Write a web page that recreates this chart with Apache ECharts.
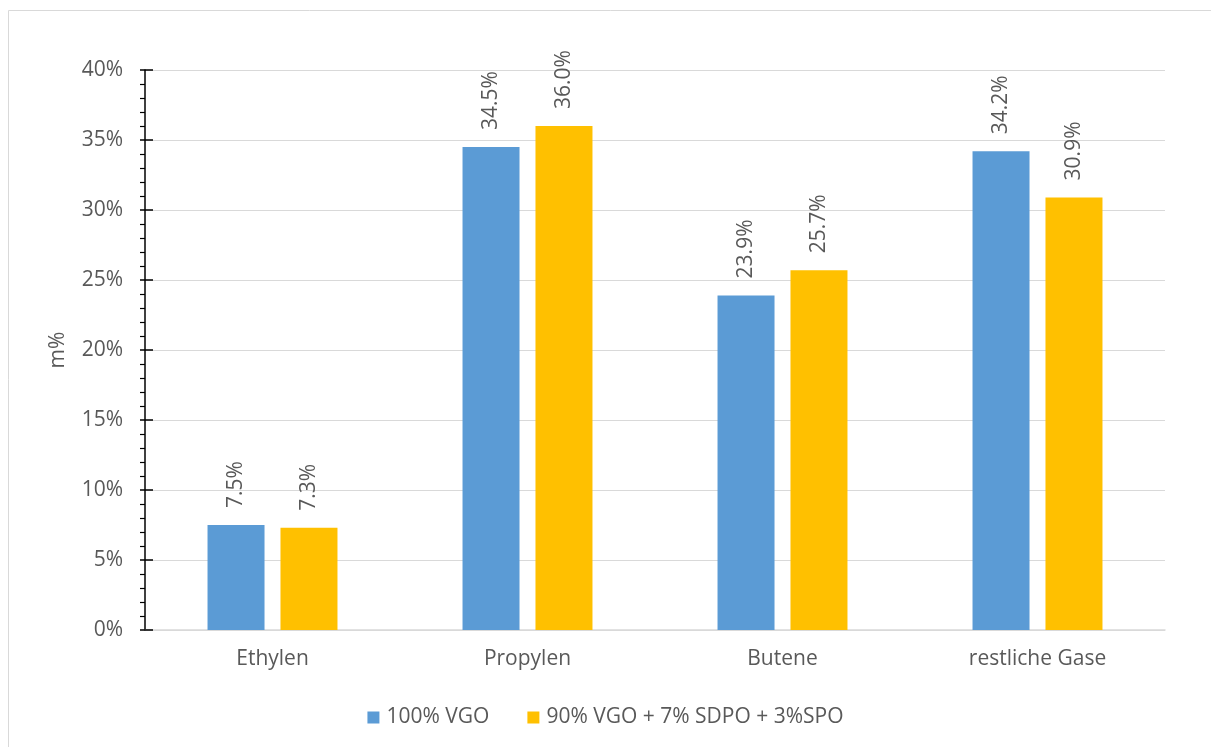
<!DOCTYPE html>
<html>
<head>
<meta charset="utf-8">
<script src="https://cdn.jsdelivr.net/npm/echarts@6/dist/echarts.min.js"></script>
<style>
  html, body { margin: 0; padding: 0; background: #fff; }
  #chart { width: 1211px; height: 747px; }
</style>
</head>
<body>
<div id="chart"></div>
<script>
// Gas product distribution by feed mixture
const categories = ['Ethylen', 'Propylen', 'Butene', 'restliche Gase'];
const seriesNames = ['100% VGO', '90% VGO + 7% SDPO + 3%SPO'];
const vgo = [7.5, 34.5, 23.9, 34.2];
const blend = [7.3, 36.0, 25.7, 30.9];
const yTicks = { min: 0, max: 40, interval: 5 };

const FONT = 'Open Sans';
const TEXT = '#595959';

const chart = echarts.init(document.getElementById('chart'));

function barLabel() {
  return {
    show: true,
    position: 'top',
    rotate: 90,
    align: 'left',
    verticalAlign: 'middle',
    distance: 17,
    color: TEXT,
    fontFamily: FONT,
    fontSize: 21,
    formatter: p => p.value.toFixed(1) + '%'
  };
}

chart.setOption({
  animation: false,
  textStyle: { fontFamily: FONT },
  graphic: [{
    type: 'rect',
    shape: { x: 8.5, y: 10.5, width: 1220, height: 760 },
    style: { fill: 'none', stroke: '#d9d9d9', lineWidth: 1 },
    silent: true
  }],
  grid: { left: 145, right: 46, top: 70, bottom: 117 },
  legend: {
    top: 702,
    left: 'center',
    itemWidth: 12,
    itemHeight: 12,
    itemGap: 38,
    icon: 'rect',
    textStyle: { color: TEXT, fontSize: 21, fontFamily: FONT, padding: [0, 0, 0, 2] },
    data: seriesNames
  },
  xAxis: {
    type: 'category',
    data: categories,
    axisLine: { lineStyle: { color: '#d9d9d9', width: 1.5 } },
    axisTick: { show: false },
    axisLabel: { color: TEXT, fontSize: 21, fontFamily: FONT, margin: 19 }
  },
  yAxis: [{
    type: 'value',
    min: yTicks.min,
    max: yTicks.max,
    interval: yTicks.interval,
    name: 'm%',
    nameLocation: 'middle',
    nameGap: 76,
    nameRotate: 90,
    nameTextStyle: { color: TEXT, fontSize: 21, fontFamily: FONT },
    axisLine: { show: true, lineStyle: { color: '#000', width: 1.5 } },
    axisTick: { show: true, length: 5, lineStyle: { color: '#000', width: 1.5 } },
    minorTick: { show: true, splitNumber: 5, length: 5, lineStyle: { color: '#000', width: 1.2 } },
    axisLabel: { color: TEXT, fontSize: 21, fontFamily: FONT, margin: 22, formatter: v => v + '%' },
    splitLine: { lineStyle: { color: '#d9d9d9', width: 1.2 } }
  }, {
    // inner half of the major ticks that cross the axis line
    type: 'value',
    position: 'left',
    min: yTicks.min,
    max: yTicks.max,
    interval: yTicks.interval,
    axisLine: { show: false },
    axisTick: { show: true, inside: true, length: 8, lineStyle: { color: '#000', width: 1.5 } },
    axisLabel: { show: false },
    splitLine: { show: false }
  }],
  series: [{
    name: seriesNames[0],
    type: 'bar',
    data: vgo,
    barWidth: 57,
    barGap: '28%',
    itemStyle: { color: '#5b9bd5' },
    label: barLabel()
  }, {
    name: seriesNames[1],
    type: 'bar',
    data: blend,
    barWidth: 57,
    itemStyle: { color: '#ffc000' },
    label: barLabel()
  }]
});
</script>
</body>
</html>
